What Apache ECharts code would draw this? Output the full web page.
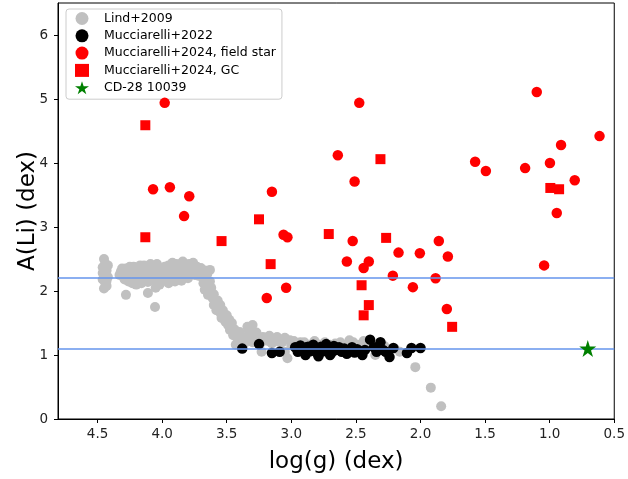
<!DOCTYPE html>
<html>
<head>
<meta charset="utf-8">
<script src="https://cdn.jsdelivr.net/npm/echarts@6/dist/echarts.min.js"></script>
<style>html,body{margin:0;padding:0;background:#fff}#c{width:628px;height:479px}</style>
</head>
<body>
<div id="c"></div>
<script>
// Lind+2009 [log(g), A(Li)]
const lind2009 = [
  [4.45,2.50],[4.44,2.43],[4.46,2.37],[4.43,2.32],[4.45,2.27],[4.42,2.22],[4.46,2.18],[4.44,2.13],[4.43,2.08],[4.45,2.04],[4.42,2.40],[4.46,2.28],[4.43,2.16],
  [4.32,2.30],[4.30,2.22],[4.28,2.35],[4.26,2.15],[4.24,2.28],[4.22,2.38],[4.20,2.20],[4.18,2.32],[4.16,2.12],[4.14,2.40],[4.12,2.25],[4.10,2.35],[4.08,2.18],[4.06,2.30],[4.04,2.42],[4.02,2.10],[4.00,2.25],[3.98,2.38],[3.96,2.20],[3.94,2.33],[3.92,2.44],[3.90,2.15],[3.88,2.28],[3.86,2.40],[3.84,2.46],[3.82,2.30],[3.80,2.20],[3.79,2.42],[3.77,2.35],[3.75,2.25],[3.73,2.38],[3.71,2.30],[3.69,2.22],[3.67,2.32],[3.65,2.27],
  [4.33,2.25],[4.31,2.35],[4.29,2.18],[4.27,2.28],[4.25,2.38],[4.23,2.12],[4.21,2.30],[4.19,2.24],[4.17,2.40],[4.15,2.20],[4.13,2.30],[4.11,2.14],[4.09,2.42],[4.07,2.24],[4.05,2.16],[4.03,2.34],[4.01,2.28],[3.99,2.16],[3.97,2.30],[3.95,2.40],[3.93,2.22],[3.91,2.36],[3.89,2.42],[3.87,2.22],[3.85,2.32],[3.83,2.40],[3.81,2.26],[3.78,2.30],[3.76,2.44],[3.74,2.32],[3.72,2.24],[3.70,2.36],[3.68,2.28],[3.66,2.20],[3.63,2.33],
  [4.28,1.94],[4.055,1.75],[4.11,1.97],[4.20,2.10],[3.85,2.16],[3.95,2.12],[4.05,2.05],
  [3.71,2.25],[3.68,2.12],[3.67,2.02],[3.645,1.94],[3.61,1.89],[3.60,1.78],[3.58,1.70],[3.55,1.66],[3.54,1.58],[3.51,1.52],[3.49,1.47],[3.475,1.39],[3.45,1.31],[3.42,1.27],[3.40,1.36],[3.37,1.23],[3.34,1.44],[3.32,1.31],[3.30,1.47],[3.43,1.16],[3.36,1.19],[3.30,1.20],
  [3.63,2.15],[3.59,1.82],[3.56,1.75],[3.52,1.60],[3.47,1.45],[3.44,1.40],
  [3.64,2.10],[3.62,2.05],[3.60,1.95],[3.57,1.85],[3.55,1.78],[3.53,1.70],[3.50,1.62],[3.48,1.55],[3.46,1.50],[3.44,1.35],[3.41,1.30],[3.39,1.25],[3.35,1.28],[3.33,1.38],[3.28,1.22],[3.27,1.35],[3.22,1.28],[3.18,1.22],[3.15,1.18],[3.11,1.28],[3.07,1.20],
  [3.26,1.27],[3.23,1.20],[3.20,1.27],[3.17,1.30],[3.13,1.23],[3.09,1.20],[3.05,1.27],[3.01,1.23],[3.03,0.95],[3.23,1.05],[2.96,1.16],[2.93,1.20],[2.86,1.16],[2.78,1.16],[2.70,1.16],[2.62,1.20],[2.55,1.23],[2.47,1.16],[2.39,1.16],[2.31,1.12],[2.24,1.08],[2.16,1.05],[2.35,1.00],[3.05,1.05],
  [3.00,1.15],[2.98,1.22],[2.90,1.20],[2.82,1.22],[2.74,1.20],[2.66,1.18],[2.58,1.15],[2.52,1.20],[2.44,1.22],[2.28,1.14],[2.20,1.10],
  [2.04,0.81],[1.92,0.49],[1.84,0.20]
];
// Mucciarelli+2022
const mucc2022 = [
  [3.38,1.10],[3.25,1.17],[3.15,1.03],[3.09,1.05],
  [2.97,1.12],[2.95,1.05],[2.93,1.15],[2.91,1.08],[2.89,1.00],[2.87,1.13],[2.85,1.06],[2.83,1.16],[2.81,1.10],[2.79,0.98],[2.77,1.13],[2.75,1.06],[2.73,1.17],[2.71,1.10],[2.69,1.03],[2.67,1.14],[2.65,1.08],[2.63,1.12],[2.61,1.05],[2.59,1.10],[2.57,1.02],[2.55,1.08],[2.53,1.12],[2.51,1.04],[2.49,1.09],[2.47,1.06],[2.45,1.00],[2.43,1.08],
  [2.39,1.24],[2.36,1.12],[2.34,1.05],[2.31,1.20],[2.27,1.05],[2.24,0.97],[2.21,1.11],[2.105,1.03],[2.07,1.11],[2.00,1.11],[2.88,1.12],[2.80,1.04],[2.70,1.00],[2.29,1.08]
];
// Mucciarelli+2024, field star
const mucc2024field = [
  [3.98,4.94],[4.07,3.59],[3.94,3.62],[3.79,3.48],[3.83,3.17],[3.15,3.55],[3.06,2.88],[3.03,2.84],[3.19,1.89],[3.04,2.05],
  [2.474,4.94],[2.64,4.12],[2.51,3.71],[2.525,2.78],[2.57,2.46],[2.40,2.46],[2.44,2.36],[2.17,2.60],[2.005,2.59],[1.858,2.78],[1.788,2.54],[2.214,2.24],[1.883,2.20],[2.059,2.06],[1.796,1.72],
  [1.577,4.02],[1.494,3.875],[1.10,5.11],[0.614,4.42],[0.912,4.28],[0.998,4.00],[1.19,3.92],[0.806,3.73],[0.945,3.22],[1.043,2.40]
];
// Mucciarelli+2024, GC
const mucc2024gc = [
  [4.13,4.59],[4.13,2.84],[3.54,2.78],[3.25,3.12],[3.16,2.42],[2.71,2.89],[2.31,4.06],[2.266,2.83],[2.456,2.09],[2.40,1.78],[2.44,1.62],[1.755,1.44],[0.995,3.61],[0.927,3.59]
];
// CD-28 10039
const cd28 = [[0.705,1.10]];
const hLines = [2.2, 1.1];
const xTicks = [0.5,1.0,1.5,2.0,2.5,3.0,3.5,4.0,4.5];
const yTicks = [0,1,2,3,4,5,6];

const starPath = 'path://M50,0 L61.8,35.3 L100,35.3 L69.1,57.1 L80.9,92.7 L50,70.5 L19.1,92.7 L30.9,57.1 L0,35.3 L38.2,35.3 Z';
const FONT = 'DejaVu Sans';

const chart = echarts.init(document.getElementById('c'), null, {renderer: 'canvas'});
chart.setOption({
  animation: false,
  backgroundColor: '#fff',
  textStyle: {fontFamily: FONT},
  grid: {left: 58, right: 13, top: 3, bottom: 60, show: true, borderColor: '#000', borderWidth: 1, containLabel: false},
  legend: {
    left: 66, top: 9, orient: 'vertical',
    backgroundColor: 'rgba(255,255,255,0.8)', borderColor: '#cccccc', borderWidth: 1, borderRadius: 3,
    padding: [3, 6, 5, 9], itemWidth: 14, itemHeight: 13, itemGap: 4.3,
    textStyle: {fontFamily: FONT, fontSize: 12.5, color: '#000', lineHeight: 13, padding: [0, 0, 0, 10]},
    data: [
      {name: 'Lind+2009', icon: 'circle'},
      {name: 'Mucciarelli+2022', icon: 'circle'},
      {name: 'Mucciarelli+2024, field star', icon: 'circle'},
      {name: 'Mucciarelli+2024, GC', icon: 'rect'},
      {name: 'CD-28 10039', icon: starPath}
    ]
  },
  xAxis: {
    type: 'value', inverse: true, min: 0.5, max: 4.806,
    name: 'log(g) (dex)', nameLocation: 'middle', nameGap: 32,
    nameTextStyle: {fontFamily: FONT, fontSize: 23, color: '#000'},
    axisLine: {show: true, onZero: false, lineStyle: {color: '#000', width: 1}},
    axisTick: {show: true, length: 4, lineStyle: {color: '#000'}, customValues: xTicks},
    axisLabel: {fontFamily: FONT, fontSize: 13.5, color: '#222', margin: 8, customValues: xTicks, formatter: v => v.toFixed(1)},
    splitLine: {show: false}
  },
  yAxis: {
    type: 'value', min: 0, max: 6.5,
    name: 'A(Li) (dex)', nameLocation: 'middle', nameGap: 18, nameRotate: 90, nameMoveOverlap: false,
    nameTextStyle: {fontFamily: FONT, fontSize: 23, color: '#000'},
    axisLine: {show: true, onZero: false, lineStyle: {color: '#000', width: 1}},
    axisTick: {show: true, length: 4, lineStyle: {color: '#000'}, customValues: yTicks},
    axisLabel: {fontFamily: FONT, fontSize: 13.5, color: '#222', margin: 10, customValues: yTicks, formatter: v => String(v)},
    splitLine: {show: false}
  },
  series: [
    {
      type: 'line', name: 'hlines', data: [], silent: true, z: 1,
      markLine: {silent: true, symbol: 'none', label: {show: false}, animation: false,
        lineStyle: {color: '#6495ED', width: 1.5, type: 'solid'},
        data: hLines.map(v => ({yAxis: v}))}
    },
    {type: 'scatter', name: 'Lind+2009', data: lind2009, symbol: 'circle', symbolSize: 10, itemStyle: {color: '#C0C0C0', opacity: 1}, z: 2},
    {type: 'scatter', name: 'Mucciarelli+2022', data: mucc2022, symbol: 'circle', symbolSize: 10.5, itemStyle: {color: '#000', opacity: 1}, z: 3},
    {type: 'scatter', name: 'Mucciarelli+2024, field star', data: mucc2024field, symbol: 'circle', symbolSize: 10.5, itemStyle: {color: '#FF0000', opacity: 1}, z: 4},
    {type: 'scatter', name: 'Mucciarelli+2024, GC', data: mucc2024gc, symbol: 'rect', symbolSize: 10, itemStyle: {color: '#FF0000', opacity: 1}, z: 5},
    {type: 'scatter', name: 'CD-28 10039', data: cd28, symbol: starPath, symbolSize: 17, itemStyle: {color: '#008000', opacity: 1}, z: 6}
  ]
});
</script>
</body>
</html>
